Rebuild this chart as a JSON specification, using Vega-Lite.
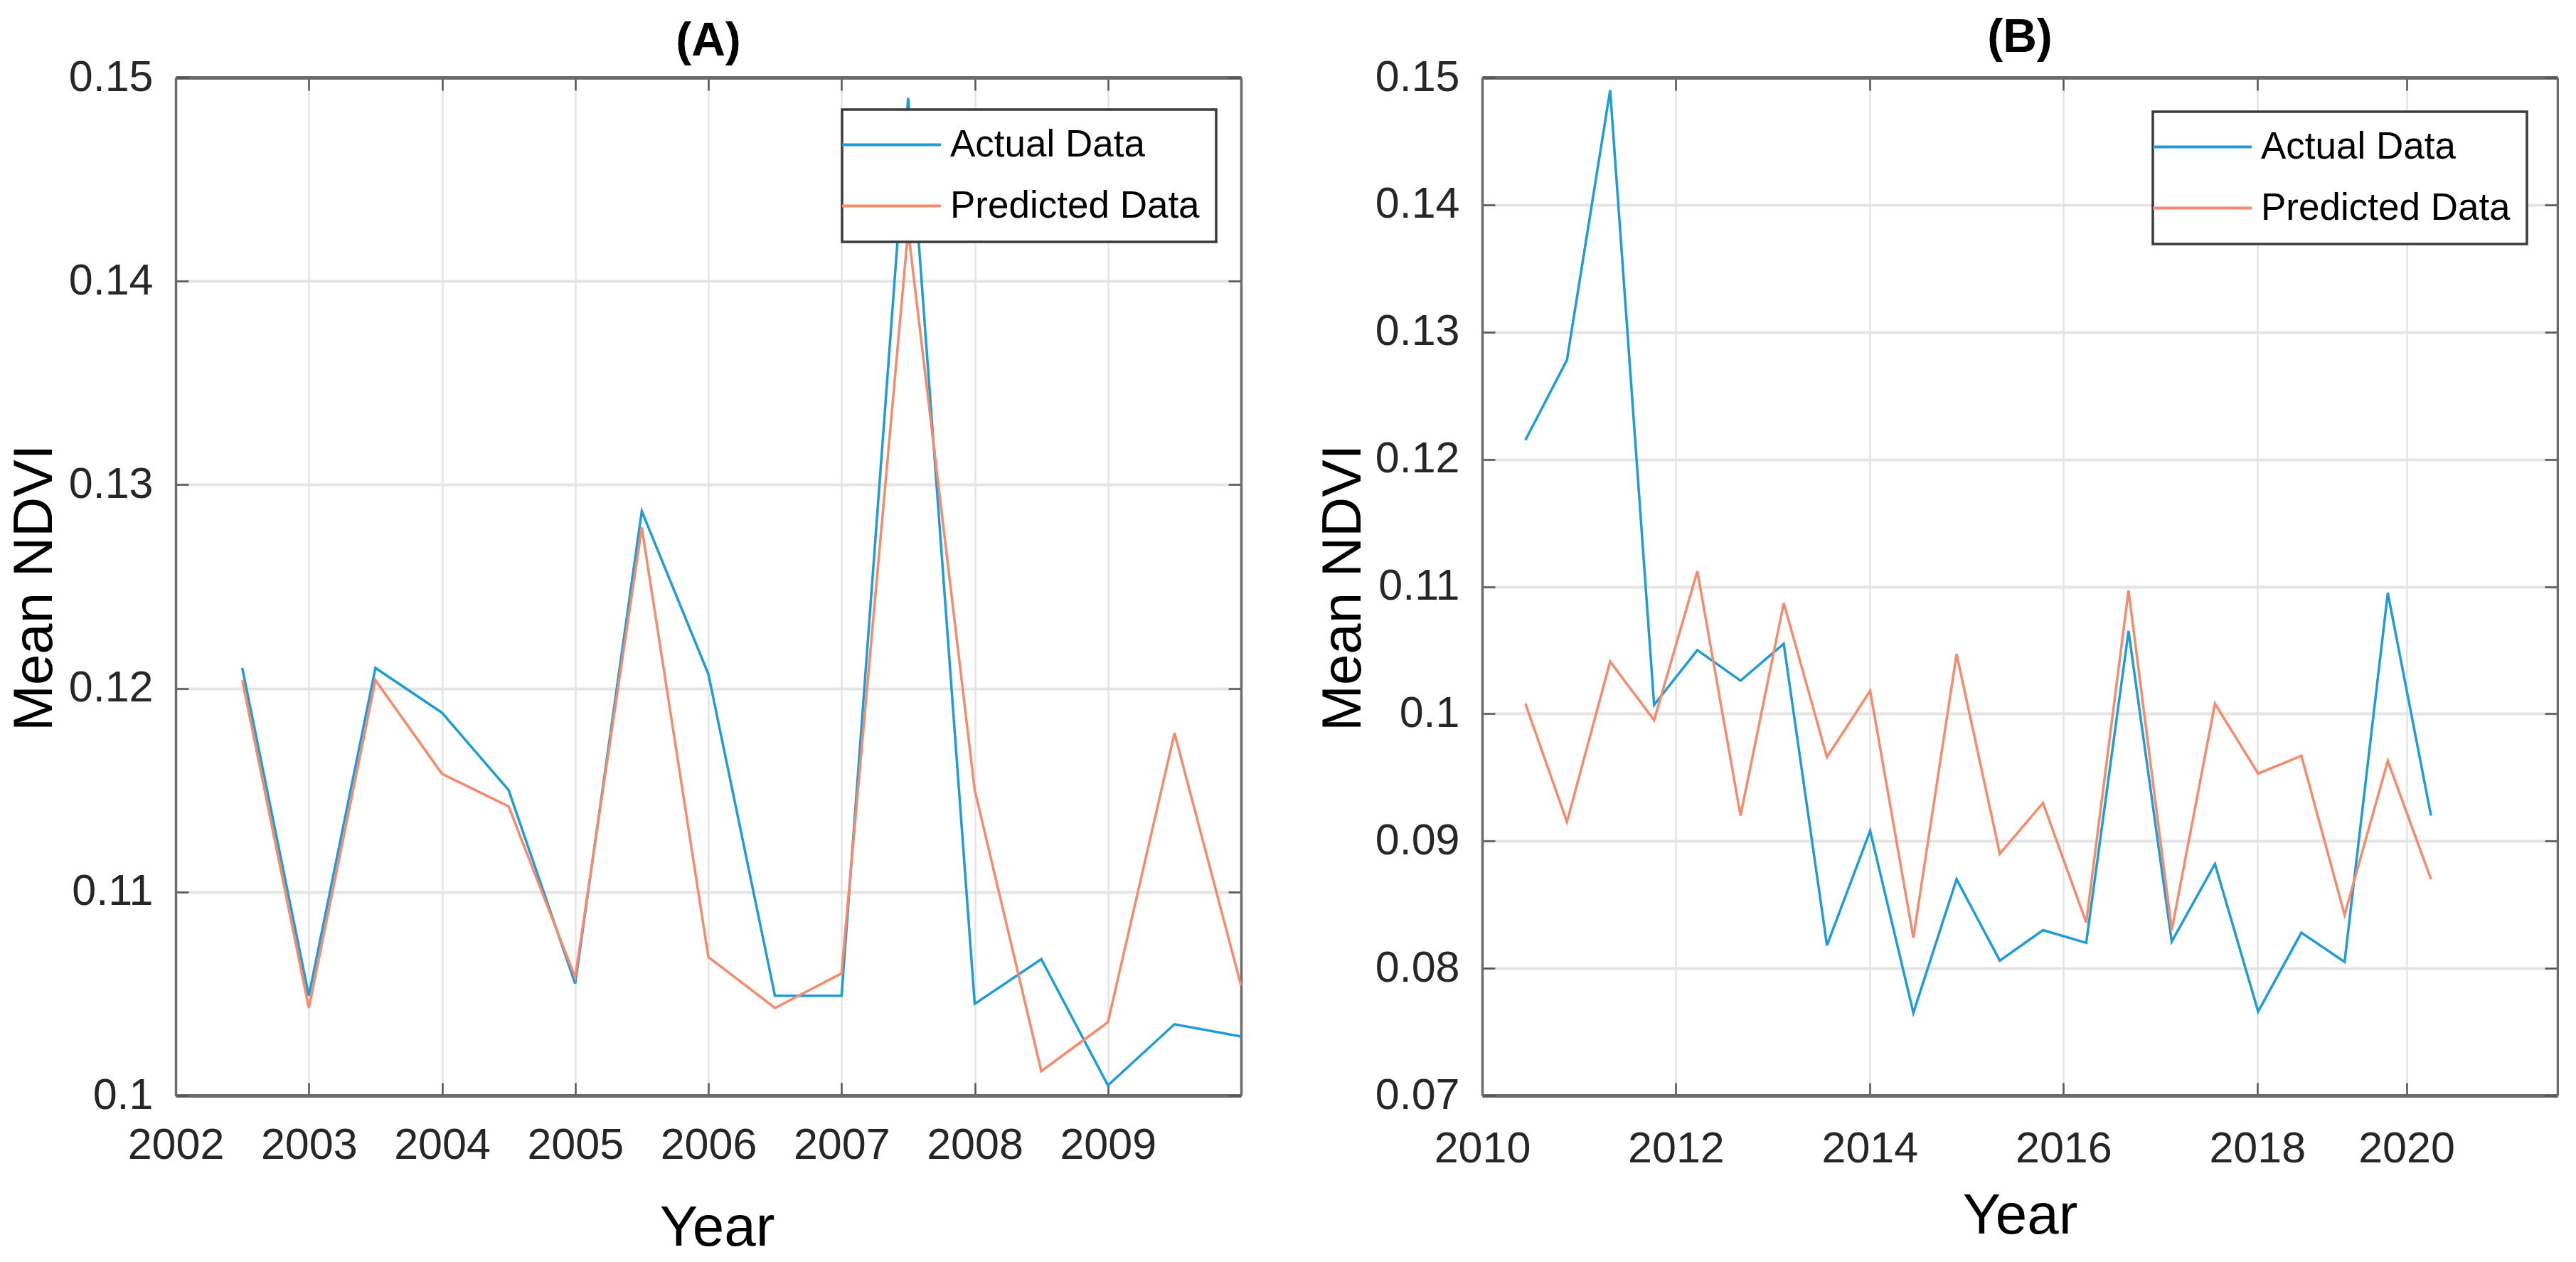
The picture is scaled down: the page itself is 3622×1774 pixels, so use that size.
{
  "$schema": "https://vega.github.io/schema/vega-lite/v6.json",
  "background": "white",
  "padding": {"left": 10, "top": 20, "right": 0, "bottom": 0},
  "datasets": {
    "A": [
      {"year": 2002.5, "ndvi": 0.1210, "series": "Actual Data"},
      {"year": 2003.0, "ndvi": 0.1049, "series": "Actual Data"},
      {"year": 2003.5, "ndvi": 0.1210, "series": "Actual Data"},
      {"year": 2004.0, "ndvi": 0.1188, "series": "Actual Data"},
      {"year": 2004.5, "ndvi": 0.1150, "series": "Actual Data"},
      {"year": 2005.0, "ndvi": 0.1055, "series": "Actual Data"},
      {"year": 2005.5, "ndvi": 0.1287, "series": "Actual Data"},
      {"year": 2006.0, "ndvi": 0.1207, "series": "Actual Data"},
      {"year": 2006.5, "ndvi": 0.1049, "series": "Actual Data"},
      {"year": 2007.0, "ndvi": 0.1049, "series": "Actual Data"},
      {"year": 2007.5, "ndvi": 0.1490, "series": "Actual Data"},
      {"year": 2008.0, "ndvi": 0.1045, "series": "Actual Data"},
      {"year": 2008.5, "ndvi": 0.1067, "series": "Actual Data"},
      {"year": 2009.0, "ndvi": 0.1005, "series": "Actual Data"},
      {"year": 2009.5, "ndvi": 0.1035, "series": "Actual Data"},
      {"year": 2010.0, "ndvi": 0.1029, "series": "Actual Data"},
      {"year": 2002.5, "ndvi": 0.1204, "series": "Predicted Data"},
      {"year": 2003.0, "ndvi": 0.1043, "series": "Predicted Data"},
      {"year": 2003.5, "ndvi": 0.1204, "series": "Predicted Data"},
      {"year": 2004.0, "ndvi": 0.1158, "series": "Predicted Data"},
      {"year": 2004.5, "ndvi": 0.1142, "series": "Predicted Data"},
      {"year": 2005.0, "ndvi": 0.1058, "series": "Predicted Data"},
      {"year": 2005.5, "ndvi": 0.1279, "series": "Predicted Data"},
      {"year": 2006.0, "ndvi": 0.1068, "series": "Predicted Data"},
      {"year": 2006.5, "ndvi": 0.1043, "series": "Predicted Data"},
      {"year": 2007.0, "ndvi": 0.1060, "series": "Predicted Data"},
      {"year": 2007.5, "ndvi": 0.1425, "series": "Predicted Data"},
      {"year": 2008.0, "ndvi": 0.1150, "series": "Predicted Data"},
      {"year": 2008.5, "ndvi": 0.1012, "series": "Predicted Data"},
      {"year": 2009.0, "ndvi": 0.1036, "series": "Predicted Data"},
      {"year": 2009.5, "ndvi": 0.1178, "series": "Predicted Data"},
      {"year": 2010.0, "ndvi": 0.1054, "series": "Predicted Data"}
    ],
    "B": [
      {"year": 2010.446, "ndvi": 0.1215, "series": "Actual Data"},
      {"year": 2010.875, "ndvi": 0.1278, "series": "Actual Data"},
      {"year": 2011.321, "ndvi": 0.1490, "series": "Actual Data"},
      {"year": 2011.775, "ndvi": 0.1007, "series": "Actual Data"},
      {"year": 2012.221, "ndvi": 0.1050, "series": "Actual Data"},
      {"year": 2012.667, "ndvi": 0.1026, "series": "Actual Data"},
      {"year": 2013.113, "ndvi": 0.1055, "series": "Actual Data"},
      {"year": 2013.559, "ndvi": 0.0818, "series": "Actual Data"},
      {"year": 2014.005, "ndvi": 0.0908, "series": "Actual Data"},
      {"year": 2014.451, "ndvi": 0.0765, "series": "Actual Data"},
      {"year": 2014.897, "ndvi": 0.0870, "series": "Actual Data"},
      {"year": 2015.343, "ndvi": 0.0806, "series": "Actual Data"},
      {"year": 2015.789, "ndvi": 0.0830, "series": "Actual Data"},
      {"year": 2016.235, "ndvi": 0.0820, "series": "Actual Data"},
      {"year": 2016.672, "ndvi": 0.1065, "series": "Actual Data"},
      {"year": 2017.118, "ndvi": 0.0821, "series": "Actual Data"},
      {"year": 2017.564, "ndvi": 0.0882, "series": "Actual Data"},
      {"year": 2018.010, "ndvi": 0.0766, "series": "Actual Data"},
      {"year": 2018.456, "ndvi": 0.0828, "series": "Actual Data"},
      {"year": 2018.902, "ndvi": 0.0805, "series": "Actual Data"},
      {"year": 2019.348, "ndvi": 0.1095, "series": "Actual Data"},
      {"year": 2019.794, "ndvi": 0.0920, "series": "Actual Data"},
      {"year": 2010.446, "ndvi": 0.1008, "series": "Predicted Data"},
      {"year": 2010.875, "ndvi": 0.0915, "series": "Predicted Data"},
      {"year": 2011.321, "ndvi": 0.1041, "series": "Predicted Data"},
      {"year": 2011.775, "ndvi": 0.0995, "series": "Predicted Data"},
      {"year": 2012.221, "ndvi": 0.1112, "series": "Predicted Data"},
      {"year": 2012.667, "ndvi": 0.0920, "series": "Predicted Data"},
      {"year": 2013.113, "ndvi": 0.1087, "series": "Predicted Data"},
      {"year": 2013.559, "ndvi": 0.0966, "series": "Predicted Data"},
      {"year": 2014.005, "ndvi": 0.1018, "series": "Predicted Data"},
      {"year": 2014.451, "ndvi": 0.0824, "series": "Predicted Data"},
      {"year": 2014.897, "ndvi": 0.1047, "series": "Predicted Data"},
      {"year": 2015.343, "ndvi": 0.0890, "series": "Predicted Data"},
      {"year": 2015.789, "ndvi": 0.0930, "series": "Predicted Data"},
      {"year": 2016.235, "ndvi": 0.0836, "series": "Predicted Data"},
      {"year": 2016.672, "ndvi": 0.1097, "series": "Predicted Data"},
      {"year": 2017.118, "ndvi": 0.0830, "series": "Predicted Data"},
      {"year": 2017.564, "ndvi": 0.1008, "series": "Predicted Data"},
      {"year": 2018.010, "ndvi": 0.0953, "series": "Predicted Data"},
      {"year": 2018.456, "ndvi": 0.0967, "series": "Predicted Data"},
      {"year": 2018.902, "ndvi": 0.0842, "series": "Predicted Data"},
      {"year": 2019.348, "ndvi": 0.0963, "series": "Predicted Data"},
      {"year": 2019.794, "ndvi": 0.0870, "series": "Predicted Data"}
    ]
  },
  "config": {
    "view": {"stroke": null},
    "font": "Liberation Sans",
    "axis": {
      "labelFont": "Liberation Sans",
      "labelFontSize": 61,
      "labelColor": "#262626",
      "labelFlush": false,
      "labelOverlap": false,
      "titleColor": "#000000",
      "titleFontWeight": "normal",
      "tickColor": "#555555",
      "tickWidth": 2.5,
      "tickSize": -18,
      "domainColor": "#6b6b6b",
      "gridColor": "#e4e4e4"
    },
    "legend": {
      "labelFont": "Liberation Sans",
      "labelFontSize": 53,
      "labelColor": "#000000",
      "labelLimit": 0,
      "symbolType": "M-5,0H5",
      "symbolSize": 773,
      "symbolStrokeWidth": 4,
      "symbolOffset": 20,
      "labelOffset": 56,
      "padding": 23,
      "rowPadding": 32,
      "fillColor": "white",
      "strokeColor": "#3a3a3a",
      "cornerRadius": 0
    },
    "title": {
      "font": "Liberation Sans",
      "fontSize": 66,
      "fontWeight": "bold",
      "color": "#000000",
      "anchor": "middle",
      "baseline": "alphabetic"
    },
    "concat": {"spacing": 98}
  },
  "resolve": {"scale": {"color": "independent"}, "legend": {"color": "independent"}},
  "hconcat": [
    {
      "width": 1498,
      "height": 1431,
      "title": {"text": "(A)", "offset": -14},
      "data": {"name": "A"},
      "layer": [
        {
          "mark": {"type": "line", "strokeWidth": 3.5},
          "encoding": {
            "x": {"field": "year", "type": "quantitative",
              "scale": {"domain": [2002, 2010], "nice": false, "zero": false},
              "axis": {"orient": "bottom", "values": [2002, 2003, 2004, 2005, 2006, 2007, 2008, 2009], "format": "d",
                "title": "Year", "titleFont": "Liberation Sans", "titleFontSize": 80,
                "titleX": 761, "titleY": 210, "titleBaseline": "alphabetic",
                "grid": true, "gridWidth": 2.5, "domainWidth": 5, "labelPadding": 58}},
            "y": {"field": "ndvi", "type": "quantitative",
              "scale": {"domain": [0.1, 0.15], "nice": false, "zero": false},
              "axis": {"orient": "left", "values": [0.1, 0.11, 0.12, 0.13, 0.14, 0.15], "format": ".2~f",
                "title": "Mean NDVI", "titleFont": "Liberation Sans", "titleFontSize": 78,
                "titleX": -198, "titleY": 717, "titleBaseline": "middle", "titleAlign": "center",
                "grid": true, "gridWidth": 4, "domainWidth": 3.5, "labelPadding": 50}},
            "color": {"field": "series", "type": "nominal",
              "scale": {"domain": ["Actual Data", "Predicted Data"], "range": ["#1f9bd7", "#f58a6c"]},
              "legend": {"orient": "none", "legendX": 937, "legendY": 45, "title": null,
                "encode": {"legend": {"update": {"strokeWidth": {"value": 3.5}}}}}}
          }
        },
        {
          "mark": {"type": "point", "opacity": 0},
          "encoding": {
            "x": {"field": "year", "type": "quantitative",
              "axis": {"orient": "top", "values": [2002, 2003, 2004, 2005, 2006, 2007, 2008, 2009], "labels": false, "title": null, "grid": false, "domainWidth": 5}},
            "y": {"field": "ndvi", "type": "quantitative",
              "axis": {"orient": "right", "values": [0.1, 0.11, 0.12, 0.13, 0.14, 0.15], "labels": false, "title": null, "grid": false, "domainWidth": 3.5}}
          }
        }
      ],
      "resolve": {"axis": {"x": "independent", "y": "independent"}}
    },
    {
      "width": 1512,
      "height": 1431,
      "title": {"text": "(B)", "offset": -9},
      "data": {"name": "B"},
      "layer": [
        {
          "mark": {"type": "line", "strokeWidth": 3.5},
          "encoding": {
            "x": {"field": "year", "type": "quantitative",
              "scale": {"domain": [2010, 2021.1], "nice": false, "zero": false},
              "axis": {"orient": "bottom", "values": [2010, 2012, 2014, 2016, 2018, 2019.54], "format": "d",
                "title": "Year", "titleFont": "Liberation Sans", "titleFontSize": 80,
                "titleX": 756, "titleY": 193, "titleBaseline": "alphabetic",
                "grid": true, "gridWidth": 2.5, "domainWidth": 5, "labelPadding": 63}},
            "y": {"field": "ndvi", "type": "quantitative",
              "scale": {"domain": [0.07, 0.15], "nice": false, "zero": false},
              "axis": {"orient": "left", "values": [0.07, 0.08, 0.09, 0.1, 0.11, 0.12, 0.13, 0.14, 0.15], "format": ".2~f",
                "title": "Mean NDVI", "titleFont": "Liberation Sans", "titleFontSize": 78,
                "titleX": -195, "titleY": 717, "titleBaseline": "middle", "titleAlign": "center",
                "grid": true, "gridWidth": 4, "domainWidth": 3.5, "labelPadding": 50}},
            "color": {"field": "series", "type": "nominal",
              "scale": {"domain": ["Actual Data", "Predicted Data"], "range": ["#1f9bd7", "#f58a6c"]},
              "legend": {"orient": "none", "legendX": 943, "legendY": 48, "title": null,
                "encode": {"legend": {"update": {"strokeWidth": {"value": 3.5}}}}}}
          }
        },
        {
          "mark": {"type": "point", "opacity": 0},
          "encoding": {
            "x": {"field": "year", "type": "quantitative",
              "axis": {"orient": "top", "values": [2010, 2012, 2014, 2016, 2018, 2019.54], "labels": false, "title": null, "grid": false, "domainWidth": 5}},
            "y": {"field": "ndvi", "type": "quantitative",
              "axis": {"orient": "right", "values": [0.07, 0.08, 0.09, 0.1, 0.11, 0.12, 0.13, 0.14, 0.15], "labels": false, "title": null, "grid": false, "domainWidth": 3.5}}
          }
        }
      ],
      "resolve": {"axis": {"x": "independent", "y": "independent"}}
    }
  ]
}
